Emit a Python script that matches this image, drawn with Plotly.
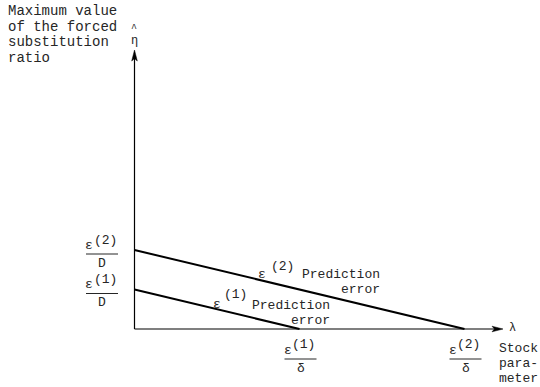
import plotly.graph_objects as go

# Intercepts of the two prediction-error lines
eps_over_D = [1.0, 2.0]        # vertical intercepts  ε(k)/D
eps_over_delta = [1.0, 2.0]    # horizontal intercepts ε(k)/δ
orders = ["(1)", "(2)"]
y_title = ["Maximum value", "of the forced", "substitution", "ratio"]
x_title = ["Stock", "para-", "meter"]

W, H = 540, 387
X0, SX = 134.5, 165.0   # pixel position of origin and pixels per unit (x)
Y0, SY = 329.0, 39.5    # pixel position of origin and pixels per unit (y)

FONT = "Liberation Mono, Courier New, monospace"
INK = "#262626"


def dx(p):  # pixel offset -> x units
    return p / SX


def dy(p):  # pixel offset (downwards) -> y units
    return -p / SY


def xp(p):
    return (p - X0) / SX


def yp(p):
    return (Y0 - p) / SY


fig = go.Figure()

# prediction-error lines
for c_y, c_x in zip(eps_over_D, eps_over_delta):
    fig.add_trace(go.Scatter(
        x=[0, c_x], y=[c_y, 0], mode="lines",
        line=dict(color="black", width=2), hoverinfo="skip", showlegend=False))

shapes = []
annotations = []


def text(x, y, s, size=13, xanchor="center", yanchor="middle"):
    annotations.append(dict(
        x=x, y=y, xref="x", yref="y", text=s, showarrow=False,
        xanchor=xanchor, yanchor=yanchor,
        font=dict(family=FONT, size=size, color=INK)))


# axes with arrowheads
x_end = xp(503)
y_end = yp(50)
shapes.append(dict(type="line", x0=0, y0=0, x1=x_end - dx(6), y1=0,
                   line=dict(color="black", width=1.2)))
shapes.append(dict(type="line", x0=0, y0=0, x1=0, y1=y_end - dy(-6),
                   line=dict(color="black", width=1.2)))
# arrowhead on the horizontal axis
shapes.append(dict(
    type="path",
    path=(f"M {x_end},0 L {x_end - dx(11)},{dy(-2.8)} "
          f"L {x_end - dx(8.5)},0 L {x_end - dx(11)},{dy(2.8)} Z"),
    fillcolor="black", line=dict(color="black", width=0.5)))
# arrowhead on the vertical axis
shapes.append(dict(
    type="path",
    path=(f"M 0,{y_end} L {dx(-2.8)},{y_end + dy(11)} "
          f"L 0,{y_end + dy(8.5)} L {dx(2.8)},{y_end + dy(11)} Z"),
    fillcolor="black", line=dict(color="black", width=0.5)))

# axis symbols
text(xp(134), yp(28), "^", size=10)
text(xp(134), yp(41), "η", size=12)
text(xp(512), 0 + dy(-1), "λ", size=12)

# axis titles
for i, s in enumerate(y_title):
    text(xp(6), yp(11 + 15.5 * i), s, size=14, xanchor="left")
for i, s in enumerate(x_title):
    text(xp(497), yp(348 + 15 * i), s, xanchor="left")

# fraction labels on the vertical axis: ε(k)/D
for c_y, o in zip(eps_over_D, orders):
    cx = xp(102)
    text(cx + dx(-13), c_y + dy(-5), "ε")
    text(cx + dx(3), c_y + dy(-10), o)
    shapes.append(dict(type="line", x0=cx + dx(-16), x1=cx + dx(16),
                       y0=c_y + dy(4), y1=c_y + dy(4),
                       line=dict(color=INK, width=1)))
    text(cx, c_y + dy(13), "D")

# fraction labels on the horizontal axis: ε(k)/δ
for c_x, o in zip(eps_over_delta, orders):
    cx = c_x + dx(1)
    text(cx + dx(-13), yp(350), "ε")
    text(cx + dx(3), yp(344), o)
    shapes.append(dict(type="line", x0=cx + dx(-16), x1=cx + dx(16),
                       y0=yp(359), y1=yp(359),
                       line=dict(color=INK, width=1)))
    text(cx, yp(368), "δ")

# line captions
text(xp(262), yp(274), "ε")
text(xp(282), yp(266), "(2)")
text(xp(382), yp(274), "Prediction", xanchor="right")
text(xp(382), yp(289), "error", xanchor="right")

text(xp(217), yp(304), "ε")
text(xp(235), yp(294), "(1)")
text(xp(332), yp(305), "Prediction", xanchor="right")
text(xp(332), yp(320), "error", xanchor="right")

fig.update_layout(
    width=W, height=H,
    margin=dict(l=0, r=0, t=0, b=0),
    paper_bgcolor="white", plot_bgcolor="white",
    xaxis=dict(range=[xp(0), xp(W)], visible=False, fixedrange=True),
    yaxis=dict(range=[yp(H), yp(0)], visible=False, fixedrange=True),
    shapes=shapes, annotations=annotations, showlegend=False)

fig.write_html("out.html")
